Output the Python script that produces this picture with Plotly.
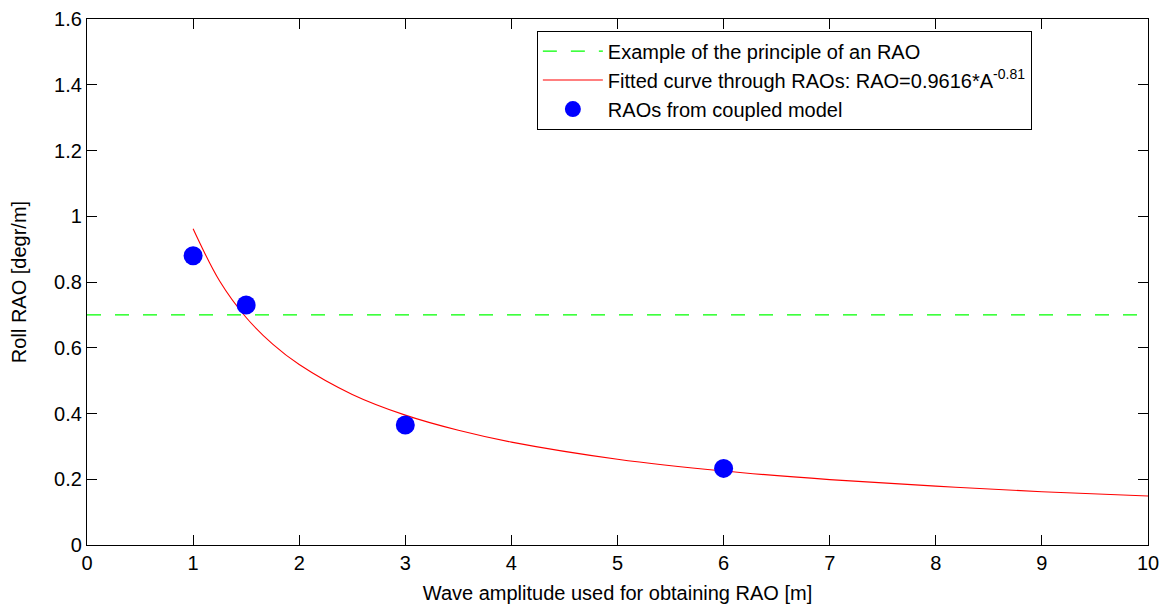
import plotly.graph_objects as go

# Data
rao_x = [1, 1.5, 3, 6]
rao_y = [0.88, 0.73, 0.365, 0.233]

curve_x = [1, 1.25, 1.5, 1.75, 2, 2.5, 3, 3.5, 4, 5, 6, 7, 8, 9, 10]
curve_y = [0.962, 0.803, 0.692, 0.611, 0.549, 0.458, 0.395, 0.349, 0.313, 0.261, 0.225, 0.199, 0.179, 0.162, 0.149]

principle_x = [0, 10]
principle_y = [0.7, 0.7]

x_ticks = [0, 1, 2, 3, 4, 5, 6, 7, 8, 9, 10]
y_ticks = [0, 0.2, 0.4, 0.6, 0.8, 1, 1.2, 1.4, 1.6]
y_tick_labels = ["0", "0.2", "0.4", "0.6", "0.8", "1", "1.2", "1.4", "1.6"]

FONT = "Liberation Sans, Arial, Helvetica, sans-serif"
FS = 20

fig = go.Figure()
fig.add_trace(go.Scatter(
    x=principle_x, y=principle_y, mode="lines",
    line=dict(color="#00ff00", width=1.3, dash="14px,14px"),
    legendgroup="a",
    name="Example of the principle of an RAO"))
fig.add_trace(go.Scatter(
    x=curve_x, y=curve_y, mode="lines",
    line=dict(color="#ff0000", width=1.1, shape="spline", smoothing=1.0),
    legendgroup="b",
    name="Fitted curve through RAOs: RAO=0.9616*A<sup>-0.81</sup>"))
fig.add_trace(go.Scatter(
    x=rao_x, y=rao_y, mode="markers",
    marker=dict(color="#0000ff", size=19, line=dict(width=0)),
    legendgroup="c",
    name="RAOs from coupled model"))

axis_common = dict(
    showgrid=False, zeroline=False, showline=True, linecolor="black",
    linewidth=1.3, mirror="ticks", ticks="inside", ticklen=10,
    tickwidth=1, tickcolor="black", automargin=False,
    tickfont=dict(family=FONT, size=FS, color="black"),
)

fig.update_xaxes(range=[0, 10], tickvals=x_ticks,
                 title=dict(text="Wave amplitude used for obtaining RAO [m]",
                            font=dict(family=FONT, size=FS, color="black"),
                            standoff=12),
                 **axis_common)
fig.update_yaxes(range=[0, 1.6], tickvals=y_ticks, ticktext=y_tick_labels,
                 title=dict(text="Roll RAO [degr/m]",
                            font=dict(family=FONT, size=FS, color="black"),
                            standoff=22),
                 **axis_common)

fig.update_layout(
    width=1167, height=607,
    margin=dict(l=87, r=19, t=19, b=62),
    plot_bgcolor="white", paper_bgcolor="white",
    font=dict(family=FONT, size=FS, color="black"),
    legend=dict(x=0.424, y=0.978, xanchor="left", yanchor="top",
                bgcolor="white", bordercolor="black", borderwidth=1,
                itemwidth=60, font=dict(family=FONT, size=FS, color="black"),
                tracegroupgap=7, traceorder="normal"),
    showlegend=True,
)

fig.write_html("out.html")
